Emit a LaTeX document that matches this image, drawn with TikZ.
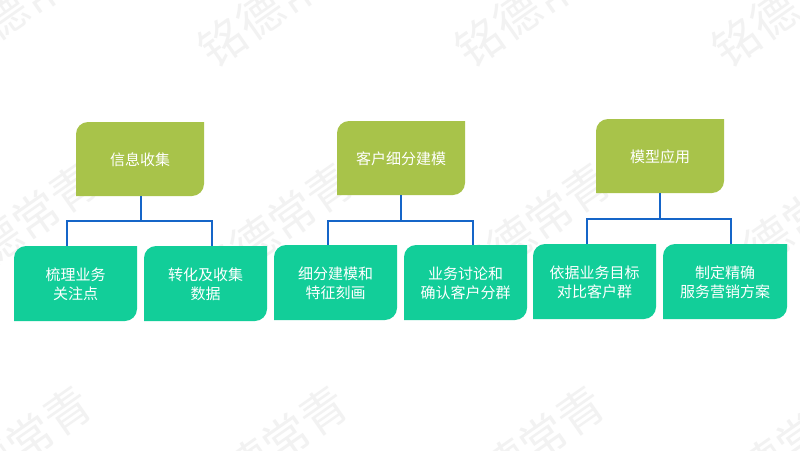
\documentclass[tikz,border=0pt]{standalone}
\usepackage{fontspec}
\setmainfont{Noto Sans CJK SC}
\definecolor{olivebox}{HTML}{A8C34A}
\definecolor{tealbox}{HTML}{12CE99}
\definecolor{linkblue}{HTML}{1565C8}
\definecolor{wmgrey}{HTML}{F2F2F2}
\tikzset{
  boxtext/.style={text=white,font=\fontsize{15}{18.5}\selectfont,align=center,inner sep=0pt,text depth=0pt},
  wmark/.style={text=wmgrey,font=\fontsize{46}{46}\selectfont,rotate=35,inner sep=0pt},
  link/.style={draw=linkblue,line width=2pt}
}
% name, x0, y0, x1, y1, colour, text
\newcommand{\cutbox}[7]{%
  \fill[#6] ({#2+12},#3) -- (#4,#3) -- (#4,{#5-12})
    .. controls (#4,{#5-5.4}) and ({#4-5.4},#5) .. ({#4-12},#5)
    -- (#2,#5) -- (#2,{#3+12})
    .. controls (#2,{#3+5.4}) and ({#2+5.4},#3) .. ({#2+12},#3) -- cycle;
  \node[boxtext,minimum width={(#4-#2)*1pt},minimum height={(#5-#3)*1pt}] (#1) at ({(#2+#4)/2},{(#3+#5)/2}) {#7};
}
\begin{document}
\begin{tikzpicture}[x=1pt,y=-1pt]
\useasboundingbox (0,0) rectangle (800,450);
\fill[white] (0,0) rectangle (800,450);
\begin{scope}
\clip (0,0) rectangle (800,450);
\foreach \r/\y/\dx in {0/2/6,1/228/0,2/451/-6}
  \foreach \c/\x in {0/17,1/273,2/530,3/787}
    \node[wmark] (wm\r\c) at ({\x+\dx},\y) {铭德常青};
\end{scope}
\cutbox{pa}{76}{122}{204}{196}{olivebox}{信息收集}
\cutbox{pb}{337}{121}{465}{195}{olivebox}{客户细分建模}
\cutbox{pc}{596}{119}{724}{193}{olivebox}{模型应用}
\cutbox{a1}{14}{246}{137}{321}{tealbox}{梳理业务\\关注点}
\cutbox{a2}{144}{246}{267}{321}{tealbox}{转化及收集\\数据}
\cutbox{b1}{274}{245}{397}{320}{tealbox}{细分建模和\\特征刻画}
\cutbox{b2}{404}{245}{527}{320}{tealbox}{业务讨论和\\确认客户分群}
\cutbox{c1}{533}{244}{656}{319}{tealbox}{依据业务目标\\对比客户群}
\cutbox{c2}{663}{244}{787}{319}{tealbox}{制定精确\\服务营销方案}
\draw[link] ([xshift=1pt]pa.south) -- ++(0,25) coordinate (ja);
\draw[link] ([xshift=-8.5pt]a1.north) |- (ja) -| ([xshift=6.5pt]a2.north);
\draw[link] (pb.south) -- ++(0,26) coordinate (jb);
\draw[link] ([xshift=-7.5pt]b1.north) |- (jb) -| ([xshift=7pt]b2.north);
\draw[link] (pc.south) -- ++(0,26) coordinate (jc);
\draw[link] ([xshift=-7.5pt]c1.north) |- (jc) -| ([xshift=6pt]c2.north);
\end{tikzpicture}
\end{document}
